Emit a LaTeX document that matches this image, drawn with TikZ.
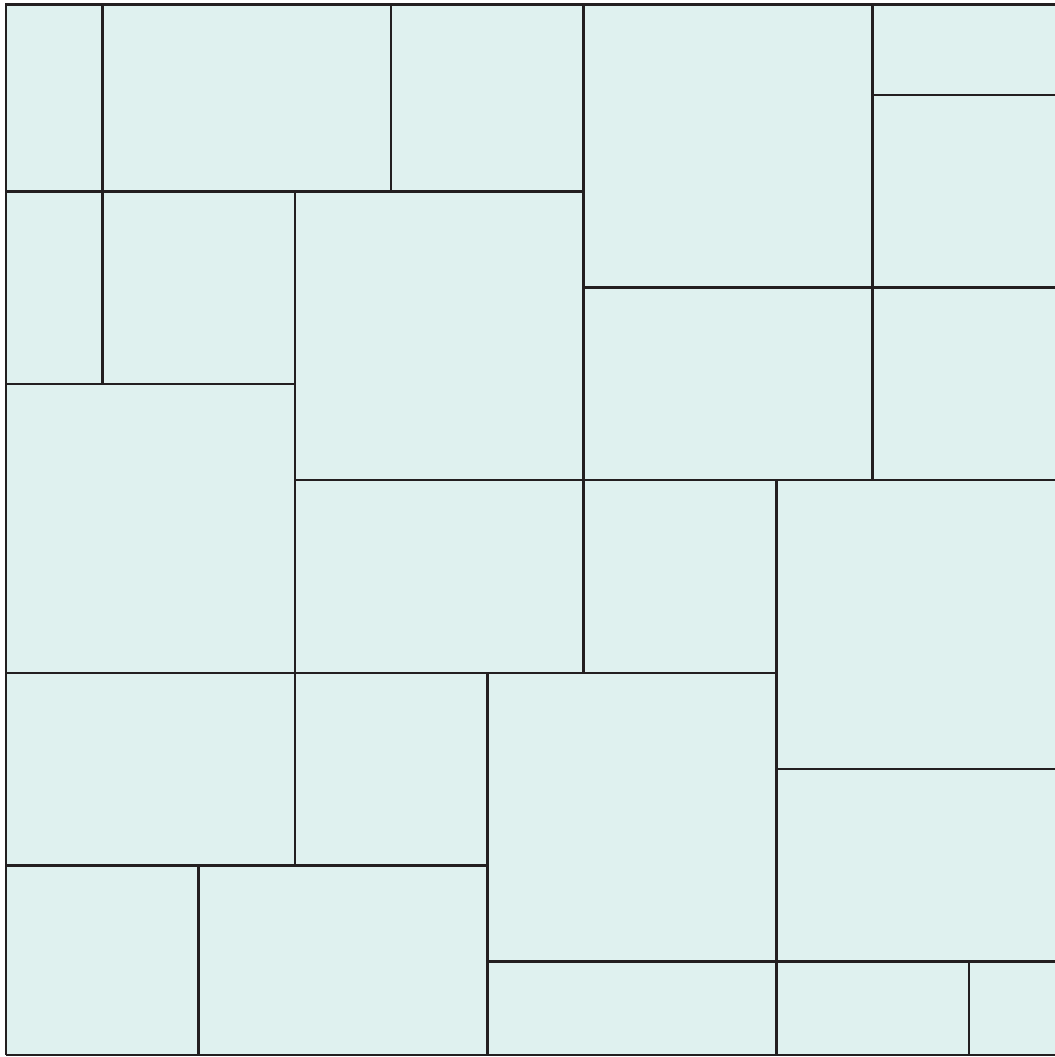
\documentclass[tikz,border=0pt]{standalone}
\usepackage{tikz}

\definecolor{tilefill}{HTML}{DFF1EF}
\definecolor{groutline}{HTML}{231F20}

\begin{document}
\begin{tikzpicture}[x=0.963cm, y=-0.963cm, grout/.style={groutline, line width=0.72pt}]
	\useasboundingbox (-0.062,0.0135) rectangle (10.893,10.99);
	\fill[tilefill] (0,0.06) rectangle (10.893,10.97);
	% outer edges (top, left, bottom)
	\draw[grout] (10.893,0.06) -- (0,0.06) -- (0,10.97);
	\draw[groutline, line width=0.4pt] (0,10.97) -- (10.893,10.97);
	% horizontal joints: y / from x / to x
	\foreach \y/\a/\b in {2/0/6, 1/9/10.893, 3/6/10.893, 4/0/3, 5/3/10.893, 7/0/8, 8/8/10.893, 9/0/5, 10/5/10.893}
		\draw[grout] (\a,\y) -- (\b,\y);
	% vertical joints: x / from y / to y
	\foreach \x/\a/\b in {1/0.06/4, 4/0.06/2, 6/0.06/7, 9/0.06/5, 3/2/9, 8/5/10.97, 5/7/10.97, 2/9/10.97, 10/10/10.97}
		\draw[grout] (\x,\a) -- (\x,\b);
\end{tikzpicture}
\end{document}
